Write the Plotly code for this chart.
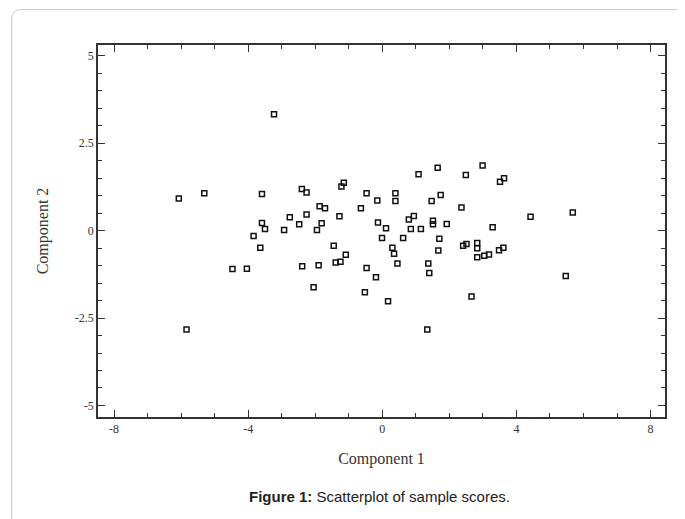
import plotly.graph_objects as go

comp1 = [-3.23, -6.07, -5.31, -3.59, -2.40, -2.26, -1.22, -1.15, -0.47, -0.15,
         -1.87, -1.71, -0.64, -2.76, -2.26, -1.28, -2.48, -1.81, -0.13, 0.11,
         -3.59, -3.50, -2.93, -1.95, -3.84, -0.01, -3.64, -1.45, -1.09, -1.39,
         -1.25, -4.04, -4.47, -2.39, -1.90, -0.47, -0.19, -2.05, -0.52, 0.17,
         -5.84, 1.08, 1.65, 2.49, 2.99, 3.51, 3.63, 0.39, 0.39, 1.47,
         1.74, 2.36, 0.79, 0.94, 0.85, 1.15, 1.51, 1.51, 1.92, 3.29,
         0.62, 1.70, 0.30, 0.35, 1.67, 0.45, 1.37, 1.40, 2.41, 2.51,
         2.83, 2.83, 2.83, 3.04, 3.18, 3.48, 3.61, 2.66, 1.34, 4.42,
         5.68, 5.47]
comp2 = [3.33, 0.92, 1.07, 1.05, 1.19, 1.09, 1.26, 1.37, 1.07, 0.86,
         0.70, 0.64, 0.64, 0.38, 0.46, 0.41, 0.18, 0.21, 0.23, 0.07,
         0.22, 0.05, 0.02, 0.02, -0.15, -0.21, -0.49, -0.43, -0.69, -0.91,
         -0.89, -1.09, -1.10, -1.02, -0.99, -1.07, -1.33, -1.62, -1.76, -2.02,
         -2.83, 1.61, 1.80, 1.59, 1.86, 1.40, 1.50, 1.07, 0.85, 0.85,
         1.02, 0.66, 0.32, 0.42, 0.05, 0.05, 0.28, 0.18, 0.19, 0.10,
         -0.21, -0.23, -0.49, -0.66, -0.57, -0.94, -0.94, -1.21, -0.43, -0.38,
         -0.35, -0.50, -0.76, -0.72, -0.68, -0.56, -0.49, -1.88, -2.83, 0.40,
         0.52, -1.30]

x_tickvals = [-8, -4, 0, 4, 8]
x_ticktext = ["-8", "-4", "0", "4", "8"]
y_tickvals = [-5, -2.5, 0, 2.5, 5]
y_ticktext = ["-5", "-2.5", "0", "2.5", "5"]

x_title = "Component 1"
y_title = "Component 2"
caption = "<b>Figure 1:</b> Scatterplot of sample scores."

fig = go.Figure()
fig.add_trace(go.Scatter(
    x=comp1, y=comp2, mode="markers",
    marker=dict(symbol="square-open", size=5, color="#111111",
                line=dict(width=1.5, color="#111111")),
    showlegend=False, hoverinfo="skip"))

serif = "Liberation Serif, Times New Roman, serif"
axis_common = dict(
    showline=True, linecolor="#333333", linewidth=1.6, mirror="ticks",
    ticks="inside", ticklen=7, tickwidth=1.3, tickcolor="#333333",
    showgrid=False, zeroline=False, tickmode="array",
    tickfont=dict(family=serif, size=12, color="#333333"),
)

fig.update_xaxes(range=[-8.48, 8.43], tickvals=x_tickvals, ticktext=x_ticktext,
                 minor=dict(ticks="inside", ticklen=4, tickmode="linear", dtick=1, tick0=0,
                            tickcolor="#333333", tickwidth=1.2),
                 title=dict(text=x_title, font=dict(family=serif, size=16, color="#333333"),
                            standoff=18),
                 **axis_common)
fig.update_yaxes(range=[-5.33, 5.31], tickvals=y_tickvals, ticktext=y_ticktext,
                 minor=dict(ticks="inside", ticklen=4, tickmode="linear", dtick=0.5, tick0=0,
                            tickcolor="#333333", tickwidth=1.2),
                 title=dict(text=y_title, font=dict(family=serif, size=16, color="#333333"),
                            standoff=22),
                 **axis_common)

fig.add_annotation(text=caption, xref="paper", yref="paper", x=0.497, y=-0.215,
                   showarrow=False, xanchor="center", yanchor="middle",
                   font=dict(family="Liberation Sans, Arial, sans-serif", size=15, color="#222222"))

fig.add_shape(type="path", xref="paper", yref="paper",
              path="M -0.152,-0.35 L -0.152,1.071 Q -0.152,1.095 -0.136,1.095 L 1.2,1.095",
              line=dict(color="#c8c8c8", width=1), layer="below")

fig.update_layout(width=677, height=511,
                  margin=dict(l=90, r=20, t=37, b=102),
                  paper_bgcolor="white", plot_bgcolor="white")

fig.write_html("out.html")
